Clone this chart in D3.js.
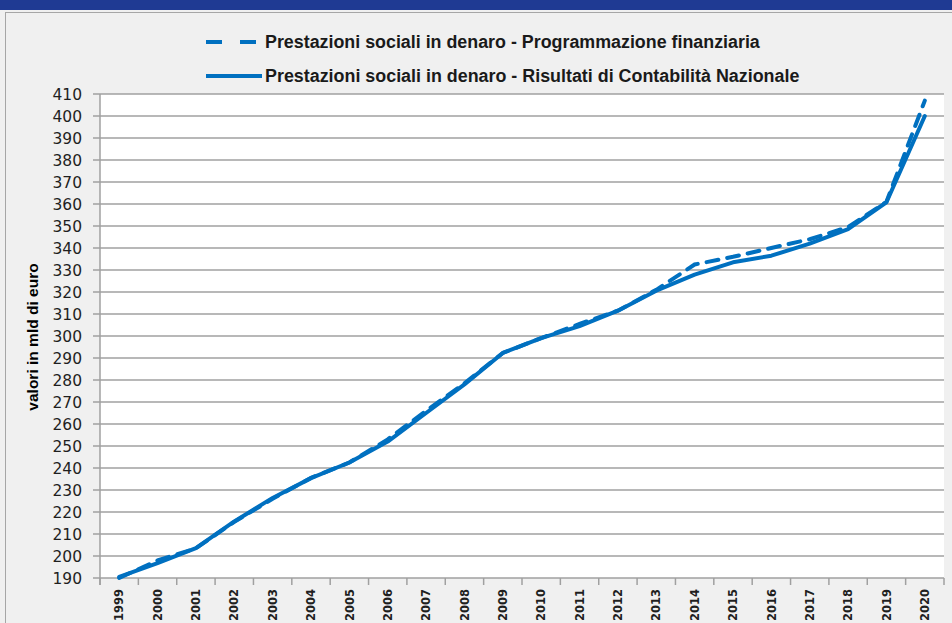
<!DOCTYPE html>
<html><head><meta charset="utf-8">
<script src="https://cdn.jsdelivr.net/npm/d3@7"></script>
<style>body{margin:0;background:#f0f0f0;overflow:hidden}</style>
</head><body>
<svg id="c" width="952" height="623"></svg>
<script>
const years = ["1999","2000","2001","2002","2003","2004","2005","2006","2007","2008","2009","2010","2011","2012","2013","2014","2015","2016","2017","2018","2019","2020"];
const programmazione = [190,198,203.5,215.5,226,235.5,242.5,253,266,278.5,292.3,299,305.5,311.5,321,332.5,336,340,344,349.5,361,407];
const contabilita = [190.5,196.8,203.6,215.7,226.4,235.4,242.5,252,265,278,292.3,299,304.5,311.5,320.6,327.9,333.5,336.5,342,348.6,360.8,400];
const yTicks = d3.range(190, 411, 10);
const legendLabels = ["Prestazioni sociali in denaro - Programmazione finanziaria","Prestazioni sociali in denaro - Risultati di Contabilità Nazionale"];
const yTitle = "valori in mld di euro";

const svg = d3.select("#c");
const W=952,H=623;
svg.append("rect").attr("width",W).attr("height",H).attr("fill","#f0f0f0");
svg.append("rect").attr("width",W).attr("height",10).attr("fill","#1f3a93");
svg.append("line").attr("x1",5.5).attr("x2",5.5).attr("y1",12).attr("y2",H).attr("stroke","#a6a6a6");
svg.append("line").attr("x1",5).attr("x2",W).attr("y1",12.5).attr("y2",12.5).attr("stroke","#a6a6a6");

const L=100,R=944,T=94,B=578;
const x = d3.scaleBand().domain(years).range([L,R]);
const y = d3.scaleLinear().domain([190,410]).range([B,T]);
svg.append("rect").attr("x",L).attr("y",T).attr("width",R-L).attr("height",B-T).attr("fill","#fff");

svg.append("g").selectAll("line").data(yTicks).join("line")
  .attr("x1",L-7).attr("x2",R).attr("y1",d=>y(d)).attr("y2",d=>y(d))
  .attr("stroke","#a0a0a0").attr("stroke-width",1.5);
svg.append("line").attr("x1",L).attr("x2",L).attr("y1",T).attr("y2",B+7).attr("stroke","#a0a0a0").attr("stroke-width",1.5);
svg.append("g").selectAll("text").data(yTicks).join("text")
  .attr("x",82).attr("y",d=>y(d)).attr("dy","0.36em").attr("text-anchor","end")
  .attr("font-family","DejaVu Sans").attr("font-size",15.5).attr("fill","#1f1f1f").text(d=>d);
const xt = years.map(d=>x(d)).concat([R]);
svg.append("g").selectAll("line").data(xt).join("line")
  .attr("x1",d=>d).attr("x2",d=>d).attr("y1",B).attr("y2",B+7)
  .attr("stroke","#a0a0a0").attr("stroke-width",1.5);
svg.append("g").selectAll("text").data(years).join("text")
  .attr("transform",d=>`translate(${x(d)+x.bandwidth()/2},589) rotate(-90)`)
  .attr("text-anchor","end").attr("dy","0.36em")
  .attr("font-family","DejaVu Sans").attr("font-weight","bold").attr("font-size",11.5).attr("fill","#1f1f1f").text(d=>d);
svg.append("text").attr("transform","translate(32,337) rotate(-90)").attr("text-anchor","middle").attr("dy","0.36em")
  .attr("font-family","Liberation Sans Narrow, Arial Narrow, sans-serif").attr("font-weight","bold").attr("font-size",15.5).attr("fill","#000").text(yTitle);

const line = d3.line().x((d,i)=>x(years[i])+x.bandwidth()/2).y(d=>y(d));
const blue="#0070c0";
svg.append("path").datum(contabilita).attr("d",line).attr("fill","none").attr("stroke",blue).attr("stroke-width",4).attr("stroke-linejoin","round").attr("stroke-linecap","round");
svg.append("path").datum(programmazione).attr("d",line).attr("fill","none").attr("stroke",blue).attr("stroke-width",4).attr("stroke-dasharray","12,9").attr("stroke-linecap","round");

const lg = svg.append("g");
[0,1].forEach(i=>{
  const yy = i===0?42:76;
  lg.append("line").attr("x1",206).attr("x2",i===0?258:262).attr("y1",yy).attr("y2",yy).attr("stroke",blue).attr("stroke-width",4)
    .attr("stroke-dasharray",i===0?"16,18":null);
  const t = lg.append("text").attr("x",265).attr("y",yy).attr("dy","0.36em")
    .attr("font-family","Liberation Sans Narrow, Arial Narrow, sans-serif").attr("font-weight","bold").attr("font-size",16).attr("fill","#1a1a1a").text(legendLabels[i]);
  const target = i===0?495:535;
  const w = t.node().getComputedTextLength();
  t.attr("font-size",16*target/w);
});
</script>
</body></html>
